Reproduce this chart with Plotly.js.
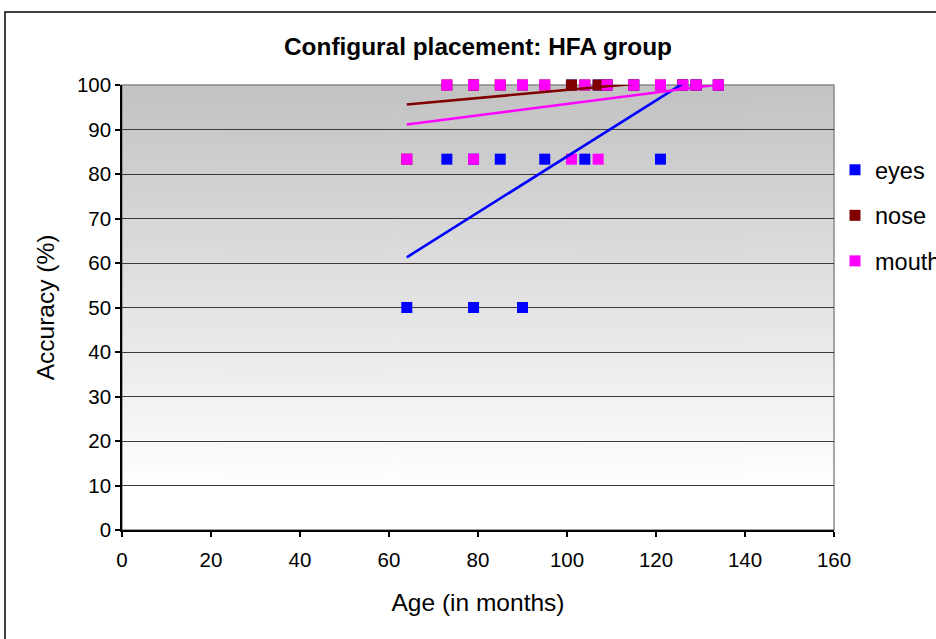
<!DOCTYPE html>
<html>
<head>
<meta charset="utf-8">
<script src="https://cdn.plot.ly/plotly-3.0.1.min.js"></script>
<style>
  html, body { margin: 0; padding: 0; background: #fff; }
  #chart { width: 936px; height: 639px; }
</style>
</head>
<body>
<div id="chart"></div>
<script>
// ---- data ----
const ages  = [64, 73, 79, 79, 85, 90, 95, 101, 104, 107, 109, 115, 121, 126, 129, 134];
const eyes  = [50, 83.33, 50, 83.33, 83.33, 50, 83.33, 100, 83.33, 100, 100, 100, 83.33, 100, 100, 100];
const nose  = [83.33, 100, 100, 100, 100, 100, 100, 100, 100, 100, 100, 100, 100, 100, 100, 100];
const mouth = [83.33, 100, 83.33, 100, 100, 100, 100, 83.33, 100, 83.33, 100, 100, 100, 100, 100, 100];
const seriesNames = ['eyes', 'nose', 'mouth'];
const seriesColors = ['#0000FF', '#800000', '#FF00FF'];
const xTicks = [0, 20, 40, 60, 80, 100, 120, 140, 160];
const yTicks = [0, 10, 20, 30, 40, 50, 60, 70, 80, 90, 100];

// least-squares linear trend line over the data's x range
function trend(xs, ys) {
  const n = xs.length;
  const mx = xs.reduce((a, b) => a + b, 0) / n;
  const my = ys.reduce((a, b) => a + b, 0) / n;
  let sxy = 0, sxx = 0;
  for (let i = 0; i < n; i++) { sxy += (xs[i] - mx) * (ys[i] - my); sxx += (xs[i] - mx) ** 2; }
  const b = sxy / sxx, a = my - b * mx;
  const x0 = Math.min(...xs), x1 = Math.max(...xs);
  return { x: [x0, x1], y: [a + b * x0, a + b * x1] };
}

const allY = [eyes, nose, mouth];
const traces = [];
allY.forEach((ys, i) => {
  traces.push({
    type: 'scatter', mode: 'markers', x: ages, y: ys, name: seriesNames[i],
    legendgroup: seriesNames[i], cliponaxis: false,
    marker: { symbol: 'square', size: 11, color: seriesColors[i], line: { width: 0 } },
    hoverinfo: 'x+y+name'
  });
});
allY.forEach((ys, i) => {
  const t = trend(ages, ys);
  traces.push({
    type: 'scatter', mode: 'lines', x: t.x, y: t.y, showlegend: false,
    line: { color: seriesColors[i], width: 2.6 }, hoverinfo: 'skip'
  });
});

// vertical gradient for plot area background
const cv = document.createElement('canvas');
cv.width = 4; cv.height = 445;
const ctx = cv.getContext('2d');
const g = ctx.createLinearGradient(0, 0, 0, 445);
g.addColorStop(0, 'rgb(194,194,194)');
g.addColorStop(0.91, 'rgb(255,255,255)');
g.addColorStop(1, 'rgb(255,255,255)');
ctx.fillStyle = g; ctx.fillRect(0, 0, 4, 445);
const bgURL = cv.toDataURL();

const FONT = 'Liberation Sans, Arial, sans-serif';
const L = 122, R = 102, T = 85, B = 109;
const PW = 936 - L - R, PH = 639 - T - B;

const layout = {
  width: 936, height: 639,
  margin: { l: L, r: R, t: T, b: B, autoexpand: false },
  paper_bgcolor: '#ffffff', plot_bgcolor: 'rgba(0,0,0,0)',
  font: { family: FONT, color: '#000000' },
  title: {
    text: '<b>Configural placement: HFA group</b>',
    font: { family: FONT, size: 24.4, color: '#000' },
    x: 0.5, xref: 'paper', y: 1 - 46 / 639, yref: 'container', yanchor: 'middle', xanchor: 'center'
  },
  xaxis: {
    range: [0, 160], tickvals: xTicks, ticktext: xTicks.map(String),
    showgrid: false, zeroline: false, showline: true, linecolor: '#000', linewidth: 1.5,
    ticks: 'outside', ticklen: 5, tickcolor: '#000', tickwidth: 1.5, ticklabelstandoff: 6,
    tickfont: { family: FONT, size: 20.5, color: '#000' },
    title: { text: 'Age (in months)', font: { family: FONT, size: 24.5, color: '#000' }, standoff: 24 },
    fixedrange: true
  },
  yaxis: {
    range: [0, 100], tickvals: yTicks, ticktext: yTicks.map(String),
    showgrid: true, gridcolor: '#3a3a3a', gridwidth: 1,
    zeroline: false, showline: true, linecolor: '#000', linewidth: 1.5,
    ticks: 'outside', ticklen: 5, tickcolor: '#000', tickwidth: 1.5,
    tickfont: { family: FONT, size: 20.5, color: '#000' },
    title: { text: 'Accuracy (%)', font: { family: FONT, size: 24.5, color: '#000' }, standoff: 15 },
    fixedrange: true
  },
  legend: {
    x: (835 - L) / PW, xanchor: 'left', y: (639 - B - 148) / PH, yanchor: 'top',
    font: { family: FONT, size: 23.5, color: '#000' },
    bgcolor: 'rgba(0,0,0,0)', borderwidth: 0, tracegroupgap: 12, itemwidth: 30
  },
  images: [{
    source: bgURL, xref: 'paper', yref: 'paper', x: 0, y: 1, sizex: 1, sizey: 1,
    sizing: 'stretch', xanchor: 'left', yanchor: 'top', layer: 'below'
  }],
  shapes: [
    // plot area border (right/top gray)
    { type: 'rect', xref: 'paper', yref: 'paper', x0: 0, x1: 1, y0: 0, y1: 1,
      line: { color: '#8a8a8a', width: 1.5 }, fillcolor: 'rgba(0,0,0,0)', layer: 'below' },
    // chart area outer border
    { type: 'rect', xref: 'paper', yref: 'paper',
      x0: (5 - L) / PW, x1: (960 - L) / PW, y0: (639 - B - 660) / PH, y1: (639 - B - 12) / PH,
      line: { color: '#000', width: 1.5 }, fillcolor: 'rgba(0,0,0,0)', layer: 'below' }
  ],
  hovermode: 'closest'
};

Plotly.newPlot('chart', traces, layout, { displayModeBar: false, staticPlot: false });
</script>
</body>
</html>
